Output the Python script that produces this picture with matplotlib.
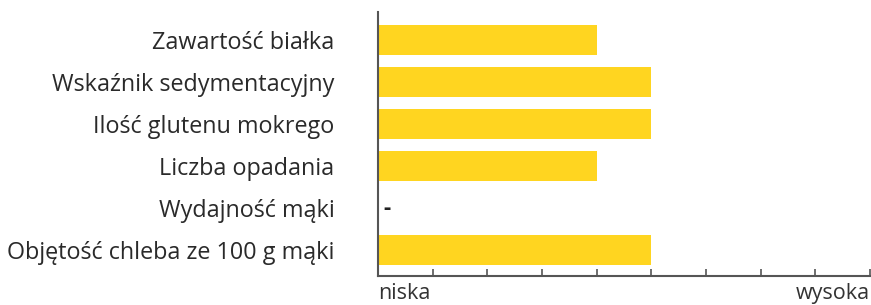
import matplotlib
matplotlib.use("Agg")
import matplotlib.pyplot as plt

categories = ["Zawartość białka", "Wskaźnik sedymentacyjny", "Ilość glutenu mokrego",
              "Liczba opadania", "Wydajność mąki", "Objętość chleba ze 100 g mąki"]
values = [4, 5, 5, 4, None, 5]
scale_max = 9
low_label = "niska"
high_label = "wysoka"

plt.rcParams['font.family'] = ['Open Sans', 'DejaVu Sans']

fig = plt.figure(figsize=(8.71, 3.05), dpi=100)
W, H = 871, 305
ax = fig.add_axes([378 / W, 1 - 276 / H, (870 - 378) / W, (276 - 12) / H])

ypos = list(range(len(categories)))
for y, v in zip(ypos, values):
    if v is None:
        ax.text(0.1, y, "-", ha="left", va="center", fontsize=16, fontweight="bold", color="#222222")
    else:
        ax.barh(y, v, height=0.72, color="#FFD520", left=0)

ax.set_xlim(0, scale_max)
ax.set_ylim(len(categories) - 0.38, -0.67)
ax.set_yticks(ypos)
ax.set_yticklabels(categories, fontsize=16.8, color="#2a2a2a")
ax.tick_params(axis="y", length=0, pad=31.5)
ax.set_xticks(range(0, scale_max + 1))
ax.set_xticklabels([])
ax.tick_params(axis="x", direction="in", length=5, width=1.2, color="#555555")
for s in ["top", "right"]:
    ax.spines[s].set_visible(False)
for s in ["left", "bottom"]:
    ax.spines[s].set_color("#555555")
    ax.spines[s].set_linewidth(1.5)

ax.text(0, -0.087, low_label, transform=ax.transAxes, ha="left", va="baseline", fontsize=15.5, color="#333333")
ax.text(1, -0.087, high_label, transform=ax.transAxes, ha="right", va="baseline", fontsize=15.5, color="#333333")

fig.savefig("out.png", dpi=100)
